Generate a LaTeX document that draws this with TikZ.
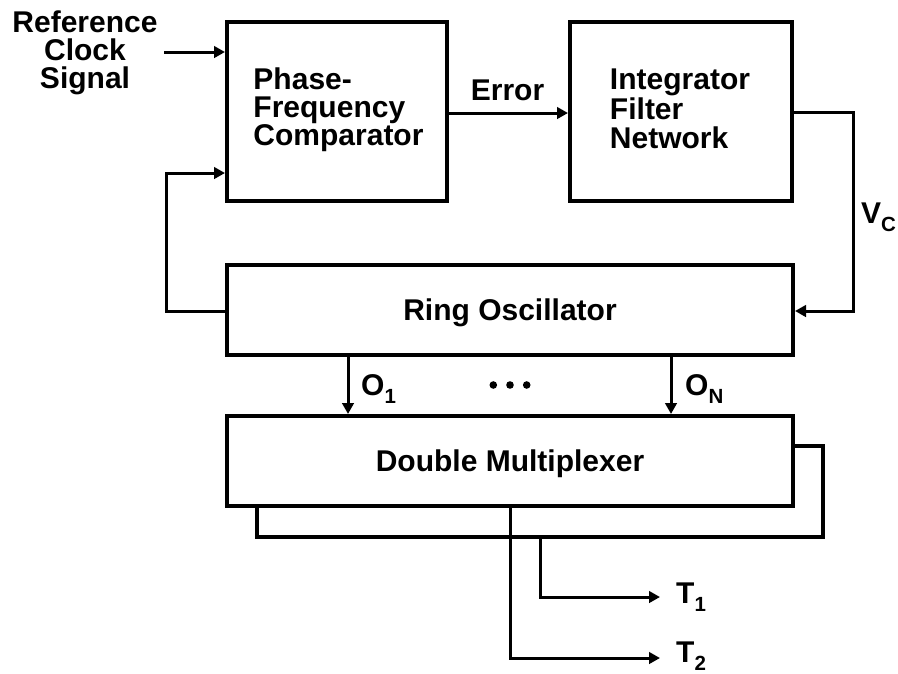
\documentclass[tikz,border=0pt]{standalone}
\usepackage{fontspec}
\setmainfont{Liberation Sans}
\usetikzlibrary{arrows.meta}
% lowered, smaller subscript for signal names
\newcommand{\lowsub}[1]{\raisebox{-8pt}{\fontsize{20.5}{20.5}\selectfont #1}}

\begin{document}
\begin{tikzpicture}[x=1pt,y=-1pt,
  txt/.style={font=\fontsize{30}{28}\selectfont\bfseries, inner sep=0pt},
  blk/.style={txt, draw, line width=4pt, fill=white},
  wire/.style={line width=3pt},
  arr/.style={wire, -{Triangle[length=11pt,width=11.5pt]}}
]
\useasboundingbox (0,0) rectangle (898,673);

% main blocks
\node[blk, minimum width=220pt, minimum height=179pt] (pfc) at (337,111) {};
\node[txt, align=left] (pfctxt) at (338.5,109.5) {Phase-\\Frequency\\Comparator};

\node[blk, minimum width=222pt, minimum height=179pt] (ifn) at (681,111) {};
\node[txt, align=left, font=\fontsize{30}{29.5}\selectfont\bfseries] (ifntxt) at (680,109) {Integrator\\Filter\\Network};

\node[blk, text depth=0pt, minimum width=566pt, minimum height=90pt] (ring) at (510,310) {Ring Oscillator};

% the second multiplexer sits behind the first one
\node[blk, minimum width=566pt, minimum height=91pt] (back) at (540,491) {};
\node[blk, text depth=0pt, minimum width=566pt, minimum height=90pt] (mux) at (510,461) {Double Multiplexer};

% input label
\node[txt, align=center] (refclk) at (85,52.5) {Reference\\Clock\\Signal};
\coordinate (refin) at (164,52);
\draw[arr] (refin) -- (refin -| pfc.west);

% error path
\draw[arr] (pfc.east |- 0,113) -- (ifn.west |- 0,113);
\node[txt, anchor=base] (err) at (507.5,100) {Error};

% control voltage
\draw[arr] (ifn.east |- 0,112) -- ++(59,0) |- (ring.east |- 0,311);
\node[txt, anchor=base west] (vc) at (861,223) {V\lowsub{C}};

% feedback to comparator
\draw[arr] (ring.west |- 0,311) -- ++(-59,0) |- (pfc.west |- 0,173);

% oscillator phases
\draw[arr] (ring.south -| 348,0) -- (mux.north -| 348,0);
\draw[arr] (ring.south -| 671,0) -- (mux.north -| 671,0);
\node[txt, anchor=base west] (o1) at (361,395) {O\lowsub{1}};
\node[txt, anchor=base west] (on) at (685,395) {O\lowsub{N}};
\foreach \dx in {493.3,510,526.7} \fill (\dx,385) circle (3.8pt);

% outputs
\coordinate (t1end) at (660,597);
\coordinate (t2end) at (660,658);
\draw[arr] (back.south) |- (t1end);
\draw[arr] (mux.south) |- (t2end);
\node[txt, anchor=base west] (t1) at (676,603) {T\lowsub{1}};
\node[txt, anchor=base west] (t2) at (676,662) {T\lowsub{2}};
\end{tikzpicture}
\end{document}
